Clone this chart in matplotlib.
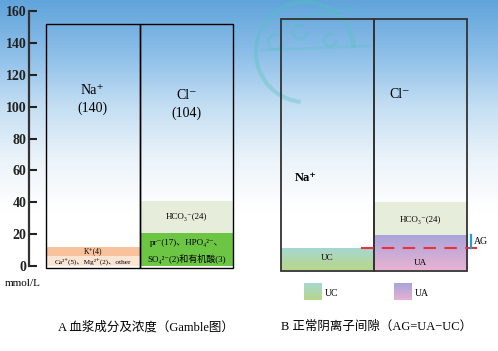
import numpy as np
import matplotlib
matplotlib.use('Agg')
from matplotlib import pyplot as plt
from matplotlib import patches

plt.rcParams['font.family'] = ['Liberation Serif', 'DejaVu Serif', 'Noto Sans CJK SC']

# ---- data (mmol/L) ----
# A: Gamble diagram
cols_a = ['cation', 'anion']
cation_seg = [6.0, 6.0]          # Ca/Mg/other, K+
cation_colors = ['#fde5d3', '#f8c39c']
anion_seg = [20.5, 20.5]         # pr/HPO4/SO4/organic acids, HCO3-
anion_colors = ['#6cc644', '#e7eddb']
box_top_a = 152.0

# B: anion gap
uc_val = 13.5
ua_val = 22.0
hco3_b = 20.7
box_top_b = 157.5

W, H = 498, 351
fig = plt.figure(figsize=(W / 100, H / 100), dpi=100)

def px(x, y, w, h):
    # pixel box (top-left origin) -> figure fraction
    return [x / W, (H - y - h) / H, w / W, h / H]

# background gradient
bg = fig.add_axes([0, 0, 1, 1], zorder=-10)
stops = [0, 0.15, 0.3, 0.45, 0.6, 1.0]
cols = np.array([[96, 164, 219], [140, 190, 232], [195, 222, 243],
                 [235, 243, 250], [255, 255, 255], [255, 255, 255]]) / 255.
t = np.linspace(0, 1, 300)
grad = np.stack([np.interp(t, stops, cols[:, k]) for k in range(3)], axis=1)
bg.imshow(grad[:, None, :], aspect='auto', extent=(0, 1, 0, 1))
bg.axis('off')

# watermark (faint logo)
ov = fig.add_axes([0, 0, 1, 1], zorder=-5)
ov.set_xlim(0, W); ov.set_ylim(H, 0); ov.axis('off')
ov.add_patch(patches.Arc((305, 52), 98, 100, theta1=95, theta2=355,
                         color='#4fc4bb', lw=3, alpha=0.35))
for cx, cy, r in [(275, 42, 7), (300, 32, 7), (330, 40, 6)]:
    ov.add_patch(patches.Arc((cx, cy), 2 * r, 2 * r, theta1=0, theta2=300,
                             color='#4fc4bb', lw=2, alpha=0.3))
ov.plot([262, 370], [50, 46], color='#4fc4bb', lw=2, alpha=0.25)
ov.plot([280, 355], [22, 8], color='#4fc4bb', lw=2, alpha=0.25)

# ---- panel A ----
ax = fig.add_axes(px(29, 11, 211, 255))
ax.set_xlim(-0.683, 1.575)
ax.set_ylim(0, 160)
ax.patch.set_alpha(0)
for s in ['top', 'right', 'bottom']:
    ax.spines[s].set_visible(False)
ax.spines['left'].set_linewidth(1.6)
ax.spines['left'].set_color('#333333')
ax.set_yticks(range(0, 161, 20))
ax.tick_params(axis='y', direction='in', length=6, width=1.5, labelsize=10, pad=2, colors='#222222')
for lb in ax.get_yticklabels():
    lb.set_fontweight('bold')
ax.set_xticks([])

bottom = 0
for h, c in zip(cation_seg, cation_colors):
    ax.bar(0, h, width=1, bottom=bottom, color=c, clip_on=False)
    bottom += h
bottom = 0
for h, c in zip(anion_seg, anion_colors):
    ax.bar(1, h, width=1, bottom=bottom, color=c, clip_on=False)
    bottom += h
ax.bar([0, 1], [box_top_a + 1.2] * 2, bottom=-1.2, width=1, facecolor='none',
       edgecolor='black', linewidth=1.0, clip_on=False)

ax.text(0, 110, 'Na⁺', ha='center', va='center', fontsize=10)
ax.text(0, 99, '(140)', ha='center', va='center', fontsize=10)
ax.text(1, 107, 'Cl⁻', ha='center', va='center', fontsize=10)
ax.text(1, 96, '(104)', ha='center', va='center', fontsize=10)
ax.text(0, 9, 'K⁺(4)', ha='center', va='center', fontsize=5.5)
ax.text(0, 3, 'Ca²⁺(5)、Mg²⁺(2)、other', ha='center', va='center', fontsize=5.2)
ax.text(1, 31, 'HCO₃⁻(24)', ha='center', va='center', fontsize=6.5)
ax.text(1, 14.5, 'pr⁻(17)、HPO₄²⁻、', ha='center', va='center', fontsize=6.5)
ax.text(1, 4.5, 'SO₄²⁻(2)和有机酸(3)', ha='center', va='center', fontsize=6.5)

fig.text(5 / W, 1 - 284 / H, 'mmol/L', fontsize=8, va='center', ha='left')

# ---- panel B ----
bx = fig.add_axes(px(250, 15, 248, 255))
bx.set_xlim(-0.833, 1.833)
bx.set_ylim(0, 160)
bx.axis('off')

def vgrad(top_rgb, bot_rgb, n=100):
    tt = np.linspace(0, 1, n)[:, None]
    return (1 - tt) * np.array(top_rgb) + tt * np.array(bot_rgb)

uc_img = vgrad([166, 216, 208], [184, 214, 138])
ua_img = vgrad([168, 164, 218], [232, 178, 210])
bx.imshow(uc_img[:, None, :] / 255., aspect='auto', extent=(-0.5, 0.5, 0, uc_val), zorder=1)
bx.imshow(ua_img[:, None, :] / 255., aspect='auto', extent=(0.5, 1.5, 0, ua_val), zorder=1)
bx.bar(1, hco3_b, width=1, bottom=ua_val, color='#e7eddb', zorder=1)
bx.bar([0, 1], [box_top_b + 0.5] * 2, bottom=-0.5, width=1, facecolor='none',
       edgecolor='#333333', linewidth=1.3, zorder=3, clip_on=False)
bx.set_xlim(-0.833, 1.833)
bx.set_ylim(0, 160)

bx.plot([0.36, 1.61], [uc_val, uc_val], color='#e8323c', lw=1.5,
        dashes=(6, 4), zorder=4)
bx.plot([1.543, 1.543], [uc_val, ua_val], color='#1f9fe0', lw=1.6, zorder=4)
bx.text(1.575, (uc_val + ua_val) / 2, 'AG', fontsize=7, va='center', ha='left')

bx.text(-0.23, 57.7, 'Na⁺', ha='center', va='center', fontsize=9, fontweight='bold')
bx.text(0.78, 110, 'Cl⁻', ha='center', va='center', fontsize=10)
bx.text(1, 31.5, 'HCO₃⁻(24)', ha='center', va='center', fontsize=6.5)
bx.text(0, 7.5, 'UC', ha='center', va='center', fontsize=6.5)
bx.text(1, 4.4, 'UA', ha='center', va='center', fontsize=6.5)

# legend swatches
for x0, img, lab in [(304, uc_img, 'UC'), (394, ua_img, 'UA')]:
    sw = fig.add_axes(px(x0, 283, 18, 17))
    sw.imshow(img[:, None, :] / 255., aspect='auto')
    sw.axis('off')
    fig.text((x0 + 21) / W, 1 - 293 / H, lab, fontsize=7, va='center', ha='left')

fig.text(146 / W, 1 - 327 / H, 'A 血浆成分及浓度（Gamble图）', fontsize=9,
         ha='center', va='center')
fig.text(377 / W, 1 - 327 / H, 'B 正常阴离子间隙（AG=UA−UC）', fontsize=9,
         ha='center', va='center')

fig.savefig('out.png', dpi=100)
